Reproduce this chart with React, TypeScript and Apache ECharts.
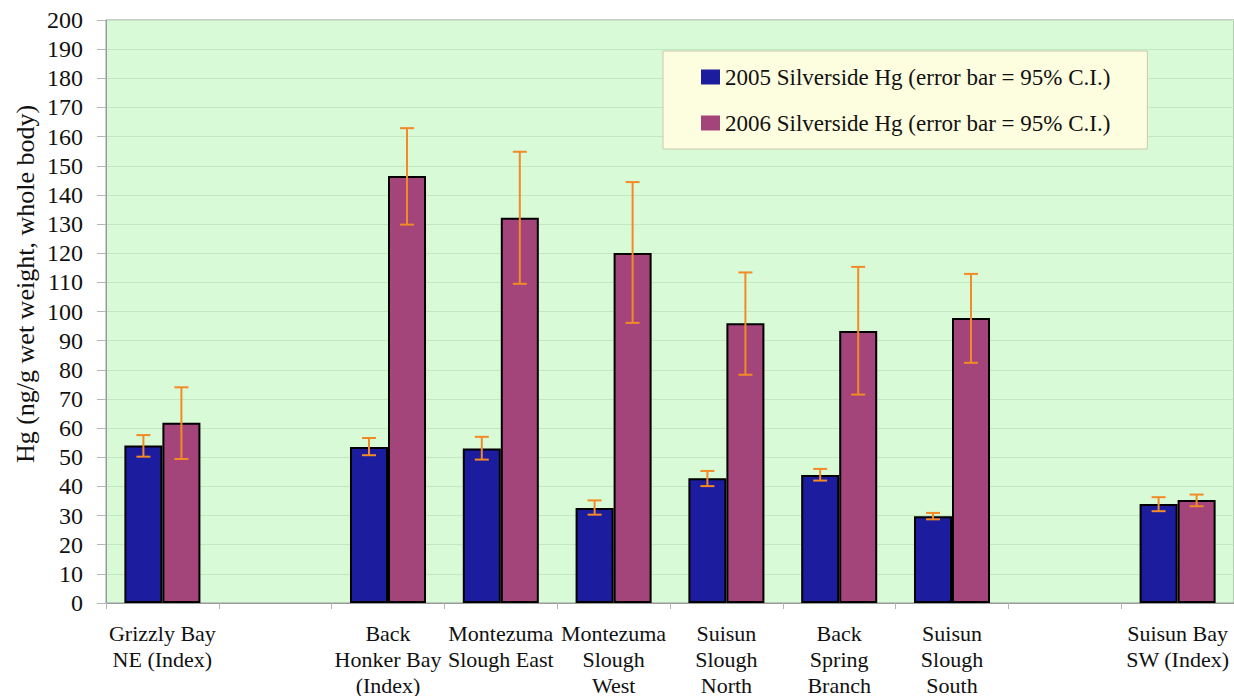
import React, { useEffect, useRef } from "react";
import * as echarts from "echarts";

const categories = [
  "Grizzly Bay\nNE (Index)",
  "",
  "Back\nHonker Bay\n(Index)",
  "Montezuma\nSlough East",
  "Montezuma\nSlough\nWest",
  "Suisun\nSlough\nNorth",
  "Back\nSpring\nBranch",
  "Suisun\nSlough\nSouth",
  "",
  "Suisun Bay\nSW (Index)",
];

const hg2005 = [54, null, 53.5, 53, 32.6, 42.8, 43.9, 29.8, null, 34];
const lo2005 = [50.2, null, 50.7, 49.2, 30.3, 40.1, 42.0, 28.7, null, 31.5];
const hi2005 = [57.6, null, 56.6, 57.0, 35.2, 45.3, 46.0, 30.9, null, 36.3];

const hg2006 = [61.8, null, 146.5, 132.2, 120.1, 96, 93.3, 97.8, null, 35.3];
const lo2006 = [49.4, null, 129.8, 109.5, 96.1, 78.3, 71.5, 82.4, null, 33.2];
const hi2006 = [74, null, 162.9, 154.8, 144.4, 113.4, 115.3, 112.9, null, 37.2];

const yTicks = { min: 0, max: 200, interval: 10 };
const yTitle = "Hg (ng/g wet weight, whole body)";

const FONT = "Liberation Serif";
const BLUE = "#1c1c9e";
const MAGENTA = "#a3457a";
const ORANGE = "#f28a26";
const CAT_GAP = 0.326;

function errorSeries(name: string, lo: (number | null)[], hi: (number | null)[], side: number) {
  const data = lo
    .map((l, i) => (l == null || hi[i] == null ? null : [i, l, hi[i]]))
    .filter((d) => d !== null);
  return {
    type: "custom",
    name: name,
    silent: true,
    z: 10,
    encode: { x: 0, y: [1, 2] },
    data,
    renderItem: (params: any, api: any) => {
      const idx = api.value(0);
      const lowP = api.coord([idx, api.value(1)]);
      const highP = api.coord([idx, api.value(2)]);
      const band = api.size([1, 0])[0];
      const barW = (band * (1 - CAT_GAP)) / 2;
      const x = lowP[0] + side * (barW / 2);
      const cap = 7;
      const style = { stroke: ORANGE, lineWidth: 2 };
      return {
        type: "group",
        children: [
          { type: "line", shape: { x1: x, y1: highP[1], x2: x, y2: lowP[1] }, style },
          { type: "line", shape: { x1: x - cap, y1: highP[1], x2: x + cap, y2: highP[1] }, style },
          { type: "line", shape: { x1: x - cap, y1: lowP[1], x2: x + cap, y2: lowP[1] }, style },
        ],
      };
    },
  };
}

export default function App() {
  const ref = useRef<HTMLDivElement>(null);

  useEffect(() => {
    document.body.style.margin = "0";
    if (!ref.current) return;
    const chart = echarts.init(ref.current, undefined, { renderer: "svg" });
    chart.setOption({
      animation: false,
      backgroundColor: "#ffffff",
      textStyle: { fontFamily: FONT },
      grid: {
        left: 106,
        top: 20,
        right: 0,
        bottom: 93,
        outerBoundsMode: "none",
        containLabel: false,
        show: true,
        backgroundColor: "#d8fad6",
        borderColor: "#9a9a9a",
        borderWidth: 1,
      },
      graphic: [
        {
          type: "text",
          x: 25,
          y: 284,
          rotation: Math.PI / 2,
          style: {
            text: yTitle,
            fontFamily: FONT,
            fontSize: 26,
            fill: "#111",
            align: "center",
            verticalAlign: "middle",
          },
        },
      ],
      legend: {
        orient: "vertical",
        left: 663,
        top: 51,
        padding: [13, 37, 13, 38],
        itemGap: 20,
        itemWidth: 19,
        itemHeight: 15,
        backgroundColor: "#fdfddf",
        borderColor: "#c9c9b4",
        borderWidth: 1,
        icon: "rect",
        data: [
          { name: "2005 Silverside Hg (error bar = 95% C.I.)", itemStyle: { borderWidth: 0 } },
          { name: "2006 Silverside Hg (error bar = 95% C.I.)", itemStyle: { borderWidth: 0 } },
        ],
        textStyle: { fontFamily: FONT, fontSize: 23, color: "#111", lineHeight: 26 },
      },
      xAxis: {
        type: "category",
        data: categories,
        axisLine: { show: true, lineStyle: { color: "#9a9a9a", width: 1 } },
        axisTick: { show: true, alignWithLabel: false, interval: 0, length: 6, lineStyle: { color: "#b5b5b5" } },
        axisLabel: {
          interval: 0,
          margin: 17,
          fontFamily: FONT,
          fontSize: 22,
          lineHeight: 26,
          color: "#111",
          verticalAlign: "top",
          align: "center",
        },
        splitLine: { show: false },
      },
      yAxis: {
        type: "value",
        min: yTicks.min,
        max: yTicks.max,
        interval: yTicks.interval,
        axisLine: { show: true, lineStyle: { color: "#9a9a9a" } },
        axisTick: { show: true, length: 9, lineStyle: { color: "#b5b5b5" } },
        axisLabel: { fontFamily: FONT, fontSize: 24, color: "#111", margin: 23 },
        splitLine: { show: true, lineStyle: { color: "#c3e8c1", width: 1 } },
      },
      series: [
        {
          type: "bar",
          name: "2005 Silverside Hg (error bar = 95% C.I.)",
          data: hg2005,
          barGap: "0%",
          barCategoryGap: CAT_GAP * 100 + "%",
          itemStyle: { color: BLUE, borderColor: "#000", borderWidth: 2 },
        },
        {
          type: "bar",
          name: "2006 Silverside Hg (error bar = 95% C.I.)",
          data: hg2006,
          barGap: "0%",
          barCategoryGap: CAT_GAP * 100 + "%",
          itemStyle: { color: MAGENTA, borderColor: "#000", borderWidth: 2 },
        },
        errorSeries("err2005", lo2005, hi2005, -1),
        errorSeries("err2006", lo2006, hi2006, 1),
      ],
    });
    return () => chart.dispose();
  }, []);

  return <div ref={ref} style={{ width: 1234, height: 696 }} />;
}
